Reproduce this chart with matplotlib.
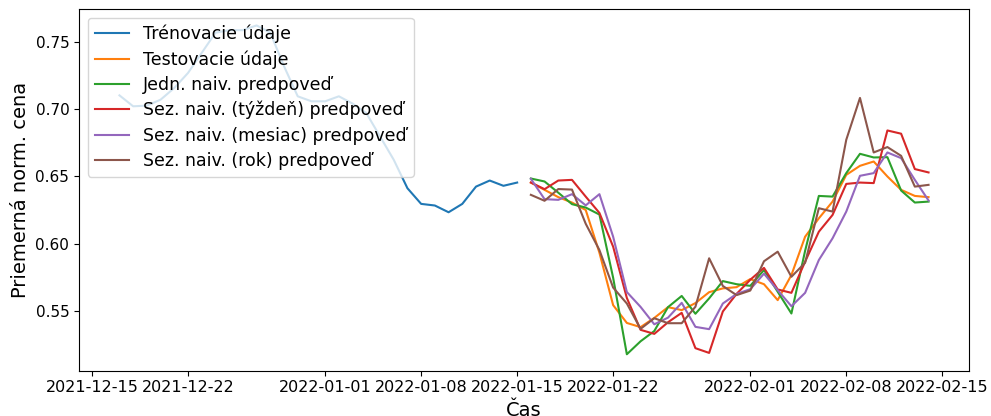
import matplotlib
matplotlib.use("Agg")
import matplotlib.pyplot as plt
import pandas as pd

# daily average normalised price, train / test split
train_dates = pd.date_range("2021-12-17", "2022-01-15", freq="D")
test_dates = pd.date_range("2022-01-16", "2022-02-14", freq="D")

train_vals = [
    0.7101, 0.7020, 0.7025, 0.7069, 0.7156, 0.7267, 0.7416, 0.7565, 0.7584, 0.7584,
    0.7619, 0.7565, 0.7317, 0.7094, 0.7057, 0.7057, 0.7094, 0.7040, 0.6970, 0.6797,
    0.6624, 0.6413, 0.6297, 0.6285, 0.6235, 0.6297, 0.6425, 0.6470, 0.6431, 0.6455,
]
test_vals = [
    0.6455, 0.6401, 0.6347, 0.6307, 0.6252, 0.5935, 0.5547, 0.5415, 0.5384, 0.5452,
    0.5532, 0.5510, 0.5562, 0.5643, 0.5671, 0.5680, 0.5740, 0.5702, 0.5584, 0.5770,
    0.6054, 0.6190, 0.6314, 0.6512, 0.6579, 0.6611, 0.6500, 0.6401, 0.6356, 0.6347,
]
naive_vals = [
    0.6485, 0.6463, 0.6380, 0.6295, 0.6270, 0.6218, 0.5750, 0.5183, 0.5279, 0.5355,
    0.5532, 0.5615, 0.5483, 0.5597, 0.5725, 0.5702, 0.5690, 0.5807, 0.5646, 0.5485,
    0.5950, 0.6356, 0.6351, 0.6525, 0.6668, 0.6641, 0.6643, 0.6396, 0.6307, 0.6314,
]
week_vals = [
    0.6455, 0.6406, 0.6470, 0.6475, 0.6351, 0.6230, 0.5980, 0.5600, 0.5364, 0.5334,
    0.5420, 0.5490, 0.5228, 0.5193, 0.5500, 0.5630, 0.5735, 0.5823, 0.5663, 0.5638,
    0.5869, 0.6091, 0.6215, 0.6445, 0.6455, 0.6451, 0.6841, 0.6817, 0.6555, 0.6530,
]
month_vals = [
    0.6483, 0.6332, 0.6327, 0.6369, 0.6286, 0.6369, 0.6054, 0.5644, 0.5534, 0.5405,
    0.5454, 0.5564, 0.5386, 0.5369, 0.5559, 0.5630, 0.5665, 0.5780, 0.5658, 0.5539,
    0.5638, 0.5881, 0.6042, 0.6240, 0.6505, 0.6525, 0.6678, 0.6636, 0.6475, 0.6322,
]
year_vals = [
    0.6364, 0.6320, 0.6407, 0.6403, 0.6150, 0.5955, 0.5677, 0.5559, 0.5371, 0.5450,
    0.5413, 0.5413, 0.5535, 0.5894, 0.5689, 0.5621, 0.5655, 0.5872, 0.5943, 0.5757,
    0.5861, 0.6265, 0.6240, 0.6772, 0.7082, 0.6678, 0.6718, 0.6653, 0.6425, 0.6438,
]

labels = [
    "Trénovacie údaje",
    "Testovacie údaje",
    "Jedn. naiv. predpoveď",
    "Sez. naiv. (týždeň) predpoveď",
    "Sez. naiv. (mesiac) predpoveď",
    "Sez. naiv. (rok) predpoveď",
]

fig, ax = plt.subplots(figsize=(9.91, 4.16), dpi=100)
fig.subplots_adjust(left=79 / 991, right=969 / 991, bottom=1 - 370.7 / 416, top=1 - 9 / 416)

ax.plot(train_dates, train_vals, color="C0", label=labels[0])
ax.plot(test_dates, test_vals, color="C1", label=labels[1])
ax.plot(test_dates, naive_vals, color="C2", label=labels[2])
ax.plot(test_dates, week_vals, color="C3", label=labels[3])
ax.plot(test_dates, month_vals, color="C4", label=labels[4])
ax.plot(test_dates, year_vals, color="C5", label=labels[5])

ax.set_xlabel("Čas", fontsize=14)
ax.set_ylabel("Priemerná norm. cena", fontsize=14)
ax.tick_params(axis="x", labelsize=11.5)
ax.tick_params(axis="y", labelsize=11)
ax.legend(loc="upper left", fontsize=12.5, labelspacing=0.41)

fig.savefig("out.png", dpi=100)
